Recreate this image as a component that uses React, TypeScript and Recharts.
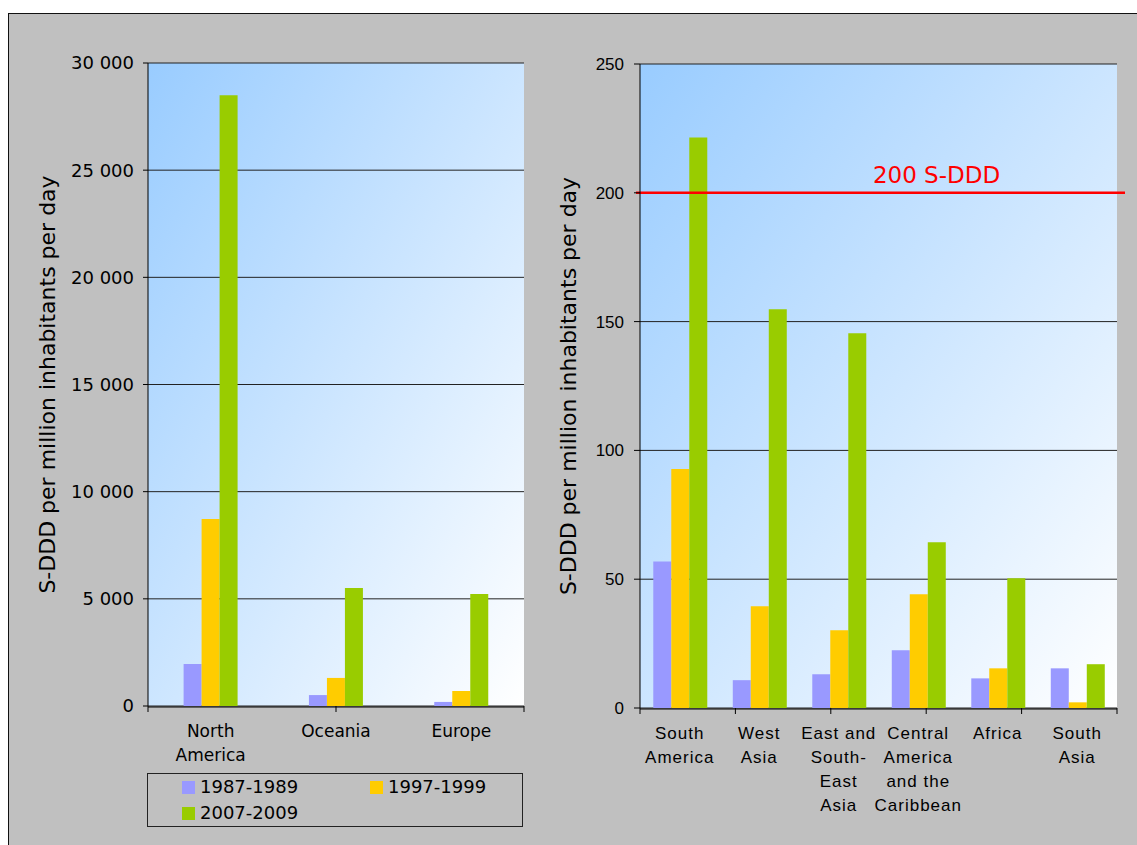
import React from 'react';
import {
  BarChart,
  Bar,
  XAxis,
  YAxis,
  CartesianGrid,
  Legend,
  ReferenceLine,
} from 'recharts';

// --- data ---
const SERIES = ['1987-1989', '1997-1999', '2007-2009'];
const COLORS = ['#9999FF', '#FFCC00', '#99CC00'];

const leftRegions = ['North\nAmerica', 'Oceania', 'Europe'];
const left1987 = [1960, 510, 190];
const left1997 = [8720, 1310, 700];
const left2007 = [28500, 5500, 5230];
const leftTicks = [0, 5000, 10000, 15000, 20000, 25000, 30000];

const rightRegions = [
  'South\nAmerica',
  'West\nAsia',
  'East and\nSouth-\nEast\nAsia',
  'Central\nAmerica\nand the\nCaribbean',
  'Africa',
  'South\nAsia',
];
const right1987 = [56.9, 10.8, 13.1, 22.4, 11.5, 15.4];
const right1997 = [92.8, 39.5, 30.2, 44.2, 15.4, 2.2];
const right2007 = [221.5, 154.8, 145.5, 64.3, 50.4, 17.0];
const rightTicks = [0, 50, 100, 150, 200, 250];

const THRESHOLD = 200;
const THRESHOLD_LABEL = '200 S-DDD';
const Y_LABEL = 'S-DDD per million inhabitants per day';

const buildRows = (names: string[], a: number[], b: number[], c: number[]) =>
  names.map((name, i) => ({ name, [SERIES[0]]: a[i], [SERIES[1]]: b[i], [SERIES[2]]: c[i] }));

const leftData = buildRows(leftRegions, left1987, left1997, left2007);
const rightData = buildRows(rightRegions, right1987, right1997, right2007);

const spaced = (v: number) => String(v).replace(/\B(?=(\d{3})+(?!\d))/g, ' ');

const CategoryTick = (props: any) => {
  const { x, y, payload, fontFamily, letterSpacing } = props;
  const lines = String(payload.value).split('\n');
  return (
    <text
      x={x}
      y={y}
      textAnchor="middle"
      fontFamily={fontFamily}
      fontSize={17}
      letterSpacing={letterSpacing}
      fill="#000"
    >
      {lines.map((line, i) => (
        <tspan key={i} x={x} dy={i === 0 ? 30 : 24}>
          {line}
        </tspan>
      ))}
    </text>
  );
};

// boundary ticks only: no text
const NoLabel = () => <g />;

const LegendBox = (props: any) => {
  const items = props.payload || [];
  return (
    <div
      style={{
        boxSizing: 'border-box',
        width: 376,
        height: 54,
        border: '1px solid #222',
        paddingLeft: 34,
        display: 'grid',
        gridTemplateColumns: '188px 1fr',
        gridAutoRows: '26px',
        fontFamily: 'DejaVu Sans',
        fontSize: 18,
        color: '#000',
      }}
    >
      {items.map((item: any) => (
        <div key={item.value} style={{ display: 'flex', alignItems: 'center' }}>
          <span style={{ width: 13, height: 13, background: item.color, marginRight: 5 }} />
          <span style={{ lineHeight: 1 }}>{item.value}</span>
        </div>
      ))}
    </div>
  );
};

const Gradient = ({ id }: { id: string }) => (
  <defs>
    <linearGradient id={id} x1="0" y1="0" x2="1" y2="1">
      <stop offset="0%" stopColor="#99CCFF" />
      <stop offset="100%" stopColor="#FFFFFF" />
    </linearGradient>
  </defs>
);

const LeftChart = () => (
  <BarChart
    width={560}
    height={845}
    data={leftData}
    margin={{ top: 63, right: 36, bottom: 137, left: 0 }}
    barCategoryGap="28.4%"
    barGap={0}
  >
    <Gradient id="bgLeft" />
    <CartesianGrid xAxisId="cat" vertical={false} stroke="#222" fill="url(#bgLeft)" />
    <XAxis
      xAxisId="bounds"
      type="number"
      domain={[0, leftRegions.length]}
      ticks={leftRegions.map((_, i) => i).concat(leftRegions.length)}
      allowDataOverflow
      interval={0}
      height={1}
      axisLine={false}
      tick={<NoLabel />}
      tickSize={6}
      tickLine={{ stroke: '#000' }}
    />
    <XAxis
      xAxisId="cat"
      dataKey="name"
      height={1}
      tickLine={false}
      tickSize={0}
      tickMargin={0}
      axisLine={{ stroke: '#000' }}
      interval={0}
      tick={<CategoryTick fontFamily="DejaVu Sans" letterSpacing={0} />}
    />
    <YAxis
      width={148}
      domain={[0, 30000]}
      ticks={leftTicks}
      tickFormatter={spaced}
      tickSize={5}
      tickMargin={9}
      axisLine={{ stroke: '#000' }}
      tickLine={{ stroke: '#000' }}
      tick={{ fill: '#000', fontSize: 18, fontFamily: 'DejaVu Sans' }}
      label={{
        value: Y_LABEL,
        angle: -90,
        position: 'insideLeft',
        offset: 47,
        style: { textAnchor: 'middle', fontSize: 22, fontFamily: 'DejaVu Sans', fill: '#000' },
      }}
    />
    <YAxis
      yAxisId="edge"
      orientation="right"
      width={0}
      domain={[0, 1]}
      tick={false}
      tickLine={false}
      axisLine={{ stroke: '#555', strokeWidth: 1.5 }}
    />
    {SERIES.map((s, i) => (
      <Bar key={s} xAxisId="cat" dataKey={s} name={s} fill={COLORS[i]} isAnimationActive={false} />
    ))}
    <Legend
      layout="vertical"
      align="center"
      verticalAlign="middle"
      wrapperStyle={{ left: 147, top: 773, width: 376, height: 54 }}
      content={<LegendBox />}
    />
  </BarChart>
);

const RightChart = () => (
  <BarChart
    width={597}
    height={845}
    data={rightData}
    margin={{ top: 64, right: 20, bottom: 135, left: 0 }}
    barCategoryGap="16.7%"
    barGap={0}
  >
    <Gradient id="bgRight" />
    <CartesianGrid xAxisId="cat" vertical={false} stroke="#222" fill="url(#bgRight)" />
    <XAxis
      xAxisId="bounds"
      type="number"
      domain={[0, rightRegions.length]}
      ticks={rightRegions.map((_, i) => i).concat(rightRegions.length)}
      allowDataOverflow
      interval={0}
      height={1}
      axisLine={false}
      tick={<NoLabel />}
      tickSize={6}
      tickLine={{ stroke: '#000' }}
    />
    <XAxis
      xAxisId="cat"
      dataKey="name"
      height={1}
      tickLine={false}
      tickSize={0}
      tickMargin={0}
      axisLine={{ stroke: '#000' }}
      interval={0}
      tick={<CategoryTick fontFamily="Liberation Sans" letterSpacing={1} />}
    />
    <YAxis
      width={100}
      domain={[0, 250]}
      ticks={rightTicks}
      tickSize={6}
      tickMargin={10}
      axisLine={{ stroke: '#000' }}
      tickLine={{ stroke: '#000' }}
      tick={{ fill: '#000', fontSize: 17, fontFamily: 'Liberation Sans' }}
      label={{
        value: Y_LABEL,
        angle: -90,
        position: 'insideLeft',
        offset: 28,
        style: { textAnchor: 'middle', fontSize: 22, fontFamily: 'DejaVu Sans', fill: '#000' },
      }}
    />
    <YAxis
      yAxisId="edge"
      orientation="right"
      width={0}
      domain={[0, 1]}
      tick={false}
      tickLine={false}
      axisLine={{ stroke: '#555', strokeWidth: 2 }}
    />
    {SERIES.map((s, i) => (
      <Bar key={s} xAxisId="cat" dataKey={s} name={s} fill={COLORS[i]} isAnimationActive={false} />
    ))}
    <ReferenceLine
      xAxisId="cat"
      y={THRESHOLD}
      shape={(p: any) => (
        <line x1={p.x1 - 4} y1={p.y1} x2={p.x2 + 8} y2={p.y2} stroke="#FF0000" strokeWidth={2.5} />
      )}
      label={{
        content: (p: any) => {
          const vb = p.viewBox || { x: 0, y: 0, width: 0 };
          return (
            <text
              x={vb.x + vb.width / 2 + 58}
              y={vb.y - 10}
              textAnchor="middle"
              fill="#FF0000"
              fontSize={23}
              fontFamily="DejaVu Sans"
            >
              {THRESHOLD_LABEL}
            </text>
          );
        },
      }}
    />
  </BarChart>
);

export default function App() {
  return (
    <div>
      <div
        style={{
          position: 'fixed',
          left: 8,
          top: 13,
          width: 1129,
          height: 832,
          boxSizing: 'border-box',
          background: '#C0C0C0',
          borderTop: '1px solid #111',
          borderLeft: '1px solid #111',
        }}
      />
      <div style={{ position: 'fixed', left: 0, top: 0 }}>
        <LeftChart />
      </div>
      <div style={{ position: 'fixed', left: 540, top: 0 }}>
        <RightChart />
      </div>
    </div>
  );
}
